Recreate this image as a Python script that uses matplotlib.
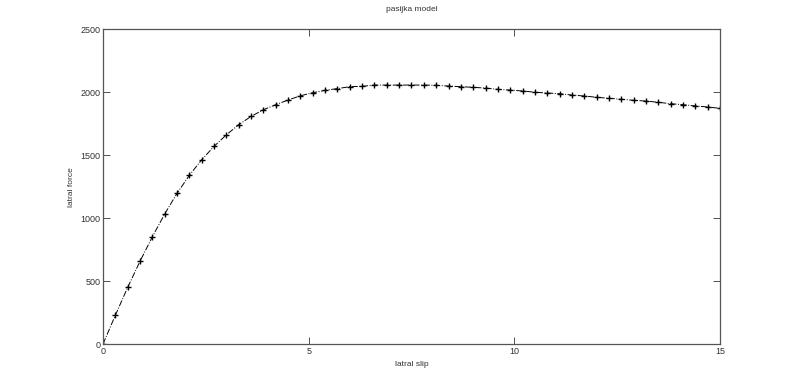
import matplotlib
matplotlib.use("Agg")
import matplotlib.pyplot as plt
import numpy as np

plt.rcParams['font.family'] = ['Liberation Sans', 'DejaVu Sans']

# lateral slip, step 0.3 from 0 to 15
slip = np.round(np.arange(51) * 0.3, 1)
force = [0, 228, 450, 657, 852, 1033, 1197, 1340, 1464, 1570,
         1662, 1742, 1808, 1861, 1901, 1938, 1972, 1996, 2015, 2029,
         2044, 2047, 2057, 2057, 2057, 2057, 2057, 2055, 2049, 2044,
         2039, 2033, 2023, 2017, 2010, 2000, 1994, 1988, 1978, 1970,
         1960, 1952, 1944, 1936, 1930, 1920, 1909, 1901, 1891, 1883,
         1872]
xticks = [0, 5, 10, 15]
yticks = [0, 500, 1000, 1500, 2000, 2500]

fig = plt.figure(figsize=(7.96, 3.87), dpi=100)
ax = fig.add_axes([0.1294, 0.1111, 0.7751, 0.8132])

ax.plot(slip, force, '-.', color='black', linewidth=0.7,
        marker='+', markersize=5, markeredgewidth=1.0)

ax.set_xlim(0, 15)
ax.set_ylim(0, 2500)
ax.set_xticks(xticks)
ax.set_yticks(yticks)
ax.tick_params(direction='in', top=True, right=True, labelsize=6.5,
               colors='#333333', length=5, width=0.6, pad=2)
for s in ax.spines.values():
    s.set_color('#555555')
    s.set_linewidth(0.9)

ax.set_title("pasijka model", fontsize=6, color='#333333', pad=13)
ax.set_xlabel("latral slip", fontsize=6, color='#333333', labelpad=4)
ax.set_ylabel("latral force", fontsize=6, color='#333333', labelpad=4)

fig.savefig("out.png", dpi=100)
